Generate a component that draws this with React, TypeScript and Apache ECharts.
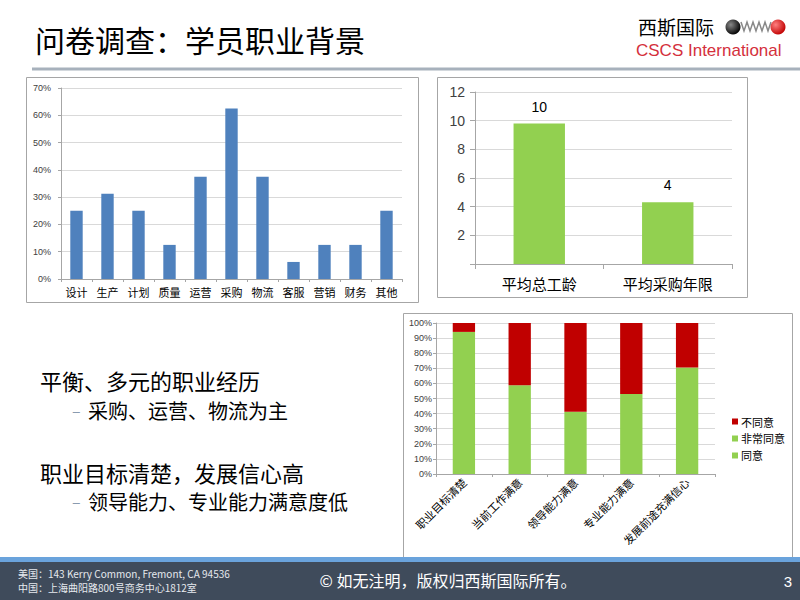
import React, { useEffect, useRef } from "react";
import * as echarts from "echarts";

const jobCategories = ["设计", "生产", "计划", "质量", "运营", "采购", "物流", "客服", "营销", "财务", "其他"];
const jobShares = [0.25, 0.3125, 0.25, 0.125, 0.375, 0.625, 0.375, 0.0625, 0.125, 0.125, 0.25];

const yearCategories = ["平均总工龄", "平均采购年限"];
const yearValues = [9.8, 4.3];

const surveyCategories = ["职业目标清楚", "当前工作满意", "领导能力满意", "专业能力满意", "发展前途充满信心"];
const agree = [0.941, 0.588, 0.412, 0.529, 0.706];
const stronglyAgree = [0, 0, 0, 0, 0];
const disagree = [0.059, 0.412, 0.588, 0.471, 0.294];

const FONT = "'Noto Sans CJK SC', 'Noto Sans', sans-serif";
const GREEN = "#92d050";
const RED = "#c00000";
const BLUE = "#4f81bd";
const GRID_LINE = "#d9d9d9";
const AXIS_LINE = "#a6a6a6";

const pct = (v: number) => Math.round(v * 100) + "%";

export default function App() {
  const ref = useRef<HTMLDivElement>(null);
  useEffect(() => {
    if (!ref.current) return;
    const chart = echarts.init(ref.current, undefined, { renderer: "svg" });
    const axisCommon = {
      axisLine: { show: true, lineStyle: { color: AXIS_LINE } },
      axisTick: { show: true, length: 3, lineStyle: { color: AXIS_LINE } },
    };
    const springPts: number[][] = [];
    for (let i = 0; i <= 10; i++) {
      springPts.push([741 + i * 3, i % 2 === 0 ? 22 : 31]);
    }
    chart.setOption({
      animation: false,
      textStyle: { fontFamily: FONT },
      grid: [
        { left: 61, top: 88, width: 341, height: 191 },
        { left: 475, top: 92, width: 257, height: 172 },
        { left: 436, top: 323, width: 279, height: 151 },
      ],
      xAxis: [
        {
          gridIndex: 0, type: "category", data: jobCategories, ...axisCommon,
          axisLabel: { fontSize: 11, color: "#000", margin: 7, fontFamily: FONT },
        },
        {
          gridIndex: 1, type: "category", data: yearCategories, ...axisCommon,
          axisTick: { show: true, length: 5, lineStyle: { color: AXIS_LINE } },
          axisLabel: { fontSize: 15, color: "#000", margin: 12, fontFamily: FONT },
        },
        {
          gridIndex: 2, type: "category", data: surveyCategories, ...axisCommon,
          axisLabel: { fontSize: 11, color: "#000", rotate: 45, margin: 6, fontFamily: FONT },
        },
      ],
      yAxis: [
        {
          gridIndex: 0, type: "value", min: 0, max: 0.7, interval: 0.1, ...axisCommon,
          splitLine: { lineStyle: { color: GRID_LINE } },
          axisLabel: { fontSize: 9, color: "#404040", formatter: pct, margin: 10, fontFamily: "Liberation Sans" },
        },
        {
          gridIndex: 1, type: "value", min: 0, max: 12, interval: 2, ...axisCommon,
          axisTick: { show: true, length: 5, lineStyle: { color: AXIS_LINE } },
          splitLine: { lineStyle: { color: GRID_LINE } },
          axisLabel: {
            fontSize: 14, color: "#404040", margin: 10, fontFamily: "Liberation Sans",
            formatter: (v: number) => (v === 0 ? "" : String(v)),
          },
        },
        {
          gridIndex: 2, type: "value", min: 0, max: 1, interval: 0.1, ...axisCommon,
          splitLine: { lineStyle: { color: GRID_LINE } },
          axisLabel: { fontSize: 9, color: "#404040", formatter: pct, margin: 4, fontFamily: "Liberation Sans" },
        },
      ],
      legend: {
        orient: "vertical",
        left: 727,
        top: 411,
        itemWidth: 6,
        itemHeight: 6,
        itemGap: 6,
        icon: "rect",
        data: ["不同意", "非常同意", "同意"],
        textStyle: { fontSize: 11, color: "#000", fontFamily: FONT, padding: [0, 0, 0, -2] },
      },
      series: [
        {
          type: "bar", xAxisIndex: 0, yAxisIndex: 0, data: jobShares, barWidth: "40%",
          itemStyle: { color: BLUE },
        },
        {
          type: "bar", xAxisIndex: 1, yAxisIndex: 1, data: yearValues, barWidth: "40%",
          itemStyle: { color: GREEN },
          label: {
            show: true, position: "top", fontSize: 14, color: "#000", distance: 10,
            fontFamily: "Liberation Sans",
            formatter: (p: any) => String(Math.round(p.value)),
          },
        },
        {
          name: "同意", type: "bar", xAxisIndex: 2, yAxisIndex: 2, stack: "s", data: agree,
          barWidth: "40%", itemStyle: { color: GREEN },
        },
        {
          name: "非常同意", type: "bar", xAxisIndex: 2, yAxisIndex: 2, stack: "s", data: stronglyAgree,
          barWidth: "40%", itemStyle: { color: GREEN },
        },
        {
          name: "不同意", type: "bar", xAxisIndex: 2, yAxisIndex: 2, stack: "s", data: disagree,
          barWidth: "40%", itemStyle: { color: RED },
        },
      ],
      graphic: [
        // chart frames
        { type: "rect", shape: { x: 26.5, y: 77.5, width: 392, height: 225 }, style: { fill: "none", stroke: "#a6a6a6", lineWidth: 1 }, z: -1 },
        { type: "rect", shape: { x: 437.5, y: 77.5, width: 310, height: 220 }, style: { fill: "none", stroke: "#a6a6a6", lineWidth: 1 }, z: -1 },
        { type: "rect", shape: { x: 403.5, y: 313.5, width: 389, height: 245 }, style: { fill: "none", stroke: "#a6a6a6", lineWidth: 1 }, z: -1 },
        // title
        {
          type: "text", x: 35, y: 39,
          style: { text: "问卷调查：学员职业背景", font: `30px ${FONT}`, fill: "#000", verticalAlign: "middle" },
        },
        { type: "line", shape: { x1: 32, y1: 69, x2: 800, y2: 69 }, style: { stroke: "#a7b1bc", lineWidth: 3 } },
        // logo
        {
          type: "text", x: 638, y: 26,
          style: { text: "西斯国际", font: `19px ${FONT}`, fill: "#000", verticalAlign: "middle" },
        },
        {
          type: "polyline", shape: { points: springPts },
          style: { stroke: "#888", lineWidth: 1.5, fill: "none" },
        },
        {
          type: "circle", shape: { cx: 733, cy: 27, r: 7.5 },
          style: {
            fill: { type: "radial", x: 0.35, y: 0.35, r: 0.7, colorStops: [{ offset: 0, color: "#888" }, { offset: 1, color: "#000" }] },
          },
        },
        {
          type: "circle", shape: { cx: 778, cy: 27, r: 7.5 },
          style: {
            fill: { type: "radial", x: 0.35, y: 0.35, r: 0.7, colorStops: [{ offset: 0, color: "#ff8080" }, { offset: 1, color: "#c00000" }] },
          },
        },
        {
          type: "text", x: 636, y: 50,
          style: { text: "CSCS International", font: "17px 'Liberation Sans', sans-serif", fill: "#d4303c", verticalAlign: "middle" },
        },
        // left bullets
        {
          type: "text", x: 40, y: 380,
          style: { text: "平衡、多元的职业经历", font: `22px ${FONT}`, fill: "#000", verticalAlign: "middle" },
        },
        {
          type: "text", x: 72, y: 410,
          style: { text: "–", font: `16px ${FONT}`, fill: "#8a9bb0", verticalAlign: "middle" },
        },
        {
          type: "text", x: 88, y: 410,
          style: { text: "采购、运营、物流为主", font: `20px ${FONT}`, fill: "#000", verticalAlign: "middle" },
        },
        {
          type: "text", x: 40, y: 472,
          style: { text: "职业目标清楚，发展信心高", font: `22px ${FONT}`, fill: "#000", verticalAlign: "middle" },
        },
        {
          type: "text", x: 72, y: 501,
          style: { text: "–", font: `16px ${FONT}`, fill: "#8a9bb0", verticalAlign: "middle" },
        },
        {
          type: "text", x: 88, y: 501,
          style: { text: "领导能力、专业能力满意度低", font: `20px ${FONT}`, fill: "#000", verticalAlign: "middle" },
        },
        // footer
        { type: "rect", shape: { x: 0, y: 557, width: 800, height: 5 }, style: { fill: "#6aa3dc" } },
        { type: "rect", shape: { x: 0, y: 562, width: 800, height: 38 }, style: { fill: "#3f4b5b" } },
        {
          type: "text", x: 18, y: 573,
          style: { text: "美国：143 Kerry Common, Fremont, CA 94536", font: `10px ${FONT}`, fill: "#e6e9ee", verticalAlign: "middle" },
        },
        {
          type: "text", x: 18, y: 587,
          style: { text: "中国：上海曲阳路800号商务中心1812室", font: `10px ${FONT}`, fill: "#e6e9ee", verticalAlign: "middle" },
        },
        {
          type: "text", x: 448, y: 580,
          style: { text: "© 如无注明，版权归西斯国际所有。", font: `16px ${FONT}`, fill: "#ffffff", align: "center", verticalAlign: "middle" },
        },
        {
          type: "text", x: 792, y: 581,
          style: { text: "3", font: "15px 'Liberation Sans', sans-serif", fill: "#ffffff", align: "right", verticalAlign: "middle" },
        },
      ],
    });
    return () => chart.dispose();
  }, []);
  return <div ref={ref} style={{ position: "absolute", left: 0, top: 0, width: 800, height: 600 }} />;
}
